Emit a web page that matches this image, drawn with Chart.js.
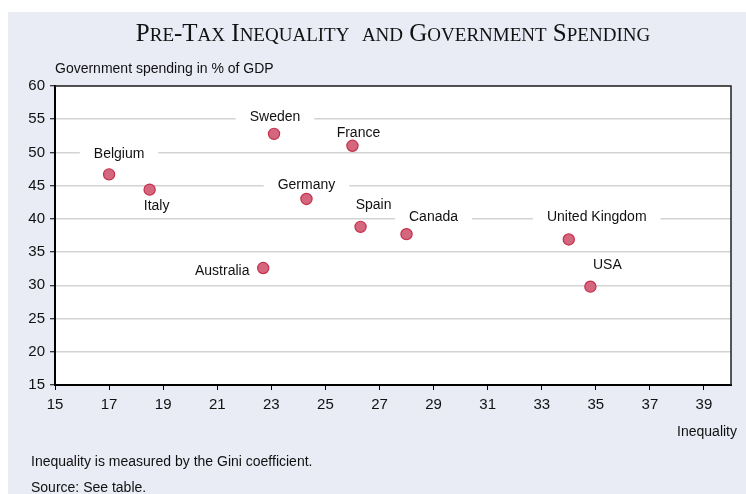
<!DOCTYPE html>
<html>
<head>
<meta charset="utf-8">
<script src="https://cdn.jsdelivr.net/npm/chart.js@4.4.1/dist/chart.umd.min.js"></script>
<style>
  html, body { margin: 0; padding: 0; background: #ffffff; }
  canvas { display: block; }
</style>
</head>
<body>
<canvas id="c" width="746" height="494"></canvas>
<script>
// ---- data ----
const countries = ["Belgium", "Italy", "Sweden", "France", "Germany", "Spain", "Canada", "United Kingdom", "USA", "Australia"];
const inequality = [17.0, 18.5, 23.1, 26.0, 24.3, 26.3, 28.0, 34.0, 34.8, 22.7];
const spending   = [46.7, 44.4, 52.8, 51.0, 43.0, 38.8, 37.7, 36.9, 29.8, 32.6];
const xTicks = [15, 17, 19, 21, 23, 25, 27, 29, 31, 33, 35, 37, 39];
const yTicks = [15, 20, 25, 30, 35, 40, 45, 50, 55, 60];

// label placement relative to the point (layout only)
const labelDx = [10, 7, 1, 6, 0, 13, 27, 28, 17, -41];
const labelDy = [-20, 16, -17, -13, -14, -22, -17, -22, -22, 3];

const titleText = "Pre-Tax Inequality  and Government Spending";
const yTitle = "Government spending in % of GDP";
const xTitle = "Inequality";
const notes = ["Inequality is measured by the Gini coefficient.", "Source: See table."];

const SANS = "'Liberation Sans', Arial, sans-serif";
const SERIF = "'Liberation Serif', 'Times New Roman', serif";

function drawSmallCaps(ctx, text, cx, y, big, small) {
  const parts = [];
  let total = 0;
  for (const ch of text) {
    const isLower = ch !== ch.toUpperCase();
    const size = isLower ? small : big;
    ctx.font = size + "px " + SERIF;
    const t = ch.toUpperCase();
    const w = ctx.measureText(t).width;
    parts.push({ t, size, w });
    total += w;
  }
  let x = cx - total / 2;
  ctx.textBaseline = "alphabetic";
  ctx.textAlign = "left";
  for (const p of parts) {
    ctx.font = p.size + "px " + SERIF;
    ctx.fillText(p.t, x, y);
    x += p.w;
  }
}

const decor = {
  id: "decor",
  beforeDraw(chart) {
    const ctx = chart.ctx;
    ctx.save();
    ctx.fillStyle = "#ffffff";
    ctx.fillRect(0, 0, chart.width, chart.height);
    ctx.fillStyle = "#E9EBF5";
    ctx.fillRect(8, 12, chart.width - 8, chart.height - 12);
    const a = chart.chartArea;
    ctx.fillStyle = "#ffffff";
    ctx.fillRect(a.left, a.top, a.right - a.left, a.bottom - a.top);
    ctx.restore();
  },
  beforeDatasetsDraw(chart) {
    const ctx = chart.ctx;
    const meta = chart.getDatasetMeta(0);
    ctx.save();
    ctx.font = "14px " + SANS;
    ctx.textAlign = "center";
    ctx.textBaseline = "middle";
    meta.data.forEach((pt, i) => {
      const cx = pt.x + labelDx[i];
      const cy = pt.y + labelDy[i];
      const w = ctx.measureText(countries[i]).width;
      ctx.fillStyle = "#ffffff";
      ctx.fillRect(cx - w / 2 - 14, cy - 9, w + 28, 18);
      ctx.fillStyle = "#111111";
      ctx.fillText(countries[i], cx, cy);
    });
    ctx.restore();
  },
  afterDraw(chart) {
    const ctx = chart.ctx;
    const a = chart.chartArea;
    ctx.save();
    // top and right frame
    ctx.strokeStyle = "#222222";
    ctx.lineWidth = 1.5;
    ctx.beginPath();
    ctx.moveTo(a.left, a.top);
    ctx.lineTo(a.right, a.top);
    ctx.lineTo(a.right, a.bottom);
    ctx.stroke();
    // title
    ctx.fillStyle = "#111111";
    drawSmallCaps(ctx, titleText, (a.left + a.right) / 2, 41, 25, 19);
    // axis titles and notes
    ctx.font = "14px " + SANS;
    ctx.textBaseline = "middle";
    ctx.textAlign = "left";
    ctx.fillText(yTitle, 55, 69);
    ctx.textAlign = "right";
    ctx.fillText(xTitle, 737, 432);
    ctx.textAlign = "left";
    ctx.fillText(notes[0], 31, 462);
    ctx.fillText(notes[1], 31, 488);
    ctx.restore();
  }
};

new Chart(document.getElementById("c"), {
  type: "scatter",
  data: {
    datasets: [{
      data: inequality.map((x, i) => ({ x, y: spending[i] })),
      backgroundColor: "#D4677D",
      borderColor: "#C42F4A",
      borderWidth: 1.2,
      pointRadius: 5.6,
      pointHoverRadius: 5.6
    }]
  },
  options: {
    responsive: false,
    devicePixelRatio: 1,
    animation: false,
    events: [],
    layout: { padding: { left: 0, top: 86, right: 15, bottom: 0 } },
    plugins: { legend: { display: false }, tooltip: { enabled: false }, title: { display: false } },
    scales: {
      x: {
        type: "linear",
        min: 15, max: 40,
        afterBuildTicks(scale) { scale.ticks = xTicks.map(v => ({ value: v })); },
        afterFit(scale) { scale.height = 109; },
        grid: { drawOnChartArea: false, drawTicks: true, tickLength: 5, tickColor: "#000000", tickWidth: 1 },
        border: { display: true, color: "#000000", width: 2 },
        ticks: { font: { family: SANS, size: 15 }, color: "#111111", padding: 6, maxRotation: 0, autoSkip: false }
      },
      y: {
        type: "linear",
        min: 15, max: 60,
        afterBuildTicks(scale) { scale.ticks = yTicks.map(v => ({ value: v })); },
        afterFit(scale) { scale.width = 55; },
        grid: { color: "#D3D3D3", lineWidth: 1.5, drawTicks: true, tickLength: 5, tickColor: "#000000", tickWidth: 1 },
        border: { display: true, color: "#000000", width: 2 },
        ticks: { font: { family: SANS, size: 15 }, color: "#111111", padding: 5, autoSkip: false }
      }
    }
  },
  plugins: [decor]
});
</script>
</body>
</html>
